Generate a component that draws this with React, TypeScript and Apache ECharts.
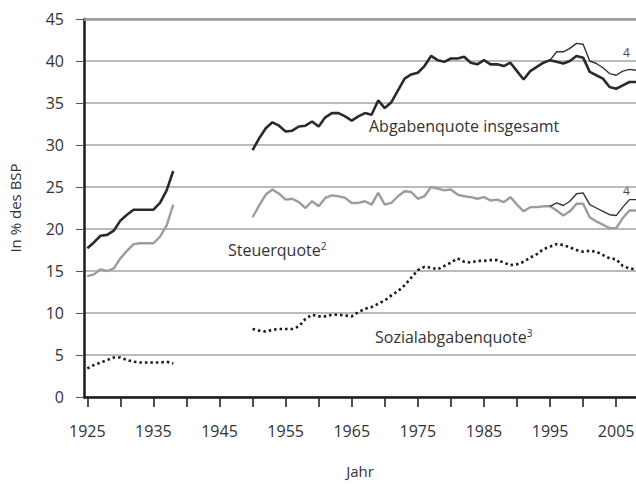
import React, { useEffect, useRef } from "react";
import * as echarts from "echarts";

const yearsPre = [1925, 1926, 1927, 1928, 1929, 1930, 1931, 1932, 1933, 1934, 1935, 1936, 1937, 1938];
const yearsPost = [
  1950, 1951, 1952, 1953, 1954, 1955, 1956, 1957, 1958, 1959,
  1960, 1961, 1962, 1963, 1964, 1965, 1966, 1967, 1968, 1969,
  1970, 1971, 1972, 1973, 1974, 1975, 1976, 1977, 1978, 1979,
  1980, 1981, 1982, 1983, 1984, 1985, 1986, 1987, 1988, 1989,
  1990, 1991, 1992, 1993, 1994, 1995, 1996, 1997, 1998, 1999,
  2000, 2001, 2002, 2003, 2004, 2005, 2006, 2007, 2008,
];

const abgabenPre = [17.7, 18.4, 19.2, 19.3, 19.8, 21.0, 21.7, 22.3, 22.3, 22.3, 22.3, 23.1, 24.6, 26.9];
const abgabenPost = [
  29.4, 30.8, 32.0, 32.7, 32.3, 31.6, 31.7, 32.2, 32.3, 32.8,
  32.2, 33.3, 33.8, 33.8, 33.4, 32.9, 33.4, 33.8, 33.6, 35.3,
  34.4, 35.1, 36.5, 37.9, 38.4, 38.6, 39.4, 40.6, 40.1, 39.9,
  40.3, 40.3, 40.5, 39.8, 39.6, 40.1, 39.6, 39.6, 39.4, 39.8,
  38.8, 37.8, 38.8, 39.3, 39.8, 40.1, 39.9, 39.7, 40.0, 40.6,
  40.4, 38.7, 38.3, 37.9, 36.9, 36.7, 37.1, 37.5, 37.5,
];

const steuerPre = [14.4, 14.6, 15.2, 15.0, 15.3, 16.5, 17.4, 18.2, 18.3, 18.3, 18.3, 19.1, 20.4, 22.9];
const steuerPost = [
  21.4, 22.8, 24.1, 24.7, 24.2, 23.5, 23.6, 23.2, 22.5, 23.3,
  22.7, 23.7, 24.0, 23.9, 23.7, 23.1, 23.1, 23.3, 22.9, 24.3,
  22.9, 23.1, 23.9, 24.5, 24.4, 23.6, 23.9, 25.0, 24.8, 24.6,
  24.7, 24.1, 23.9, 23.8, 23.6, 23.8, 23.4, 23.5, 23.2, 23.8,
  22.9, 22.1, 22.6, 22.6, 22.7, 22.7, 22.2, 21.6, 22.1, 23.0,
  23.0, 21.4, 20.9, 20.5, 20.1, 20.1, 21.3, 22.2, 22.2,
];

const sozialPre = [3.4, 3.8, 4.1, 4.4, 4.7, 4.7, 4.4, 4.2, 4.1, 4.1, 4.1, 4.1, 4.2, 4.0];
const sozialPost = [
  8.1, 7.9, 7.8, 8.0, 8.1, 8.1, 8.1, 8.4, 9.3, 9.8,
  9.6, 9.6, 9.8, 9.8, 9.7, 9.6, 10.1, 10.5, 10.7, 11.1,
  11.5, 12.1, 12.6, 13.3, 14.2, 15.1, 15.5, 15.4, 15.2, 15.6,
  16.0, 16.5, 16.1, 16.0, 16.2, 16.2, 16.3, 16.3, 16.0, 15.7,
  15.8, 16.1, 16.6, 17.0, 17.6, 17.9, 18.2, 18.1, 17.8, 17.5,
  17.3, 17.4, 17.3, 16.9, 16.5, 16.4, 15.6, 15.3, 15.2,
];

// Alternative definition (footnote 4), 1995-2008
const yearsAlt = [1995, 1996, 1997, 1998, 1999, 2000, 2001, 2002, 2003, 2004, 2005, 2006, 2007, 2008];
const abgabenAlt = [40.1, 41.1, 41.1, 41.5, 42.1, 42.0, 40.0, 39.7, 39.2, 38.5, 38.3, 38.8, 39.0, 38.9];
const steuerAlt = [22.7, 23.1, 22.8, 23.3, 24.2, 24.3, 22.9, 22.5, 22.1, 21.7, 21.6, 22.6, 23.5, 23.5];

const xTickValues = [1925, 1930, 1935, 1940, 1945, 1950, 1955, 1960, 1965, 1970, 1975, 1980, 1985, 1990, 1995, 2000, 2005];
const xLabelValues = [1925, 1935, 1945, 1955, 1965, 1975, 1985, 1995, 2005];

const FONT = "'Open Sans', sans-serif";

function joinSegments(a: number[], av: number[], b: number[], bv: number[]) {
  const out: any[] = a.map((y, i) => [y, av[i]]);
  out.push([1939, null]);
  b.forEach((y, i) => out.push([y, bv[i]]));
  return out;
}

export default function App() {
  const ref = useRef<HTMLDivElement>(null);
  useEffect(() => {
    if (!ref.current) return;
    const chart = echarts.init(ref.current, null, { renderer: "svg" });
    const option: any = {
      animation: false,
      backgroundColor: "#ffffff",
      grid: { left: 84, right: 0, top: 19, bottom: 87, containLabel: false, outerBoundsMode: "none" },
      xAxis: {
        type: "value",
        min: 1924.5,
        max: 2008,
        name: "Jahr",
        nameLocation: "middle",
        nameGap: 66,
        nameTextStyle: { fontFamily: FONT, fontSize: 15, color: "#333" },
        axisLine: { show: true, onZero: false, lineStyle: { color: "#1a1a1a", width: 2.5 } },
        axisTick: { show: true, customValues: xTickValues, length: 10, lineStyle: { color: "#222", width: 1.6 } },
        axisLabel: {
          customValues: xLabelValues,
          formatter: (v: number) => String(v),
          margin: 26,
          fontFamily: FONT,
          fontSize: 16,
          color: "#333",
        },
        splitLine: { show: false },
      },
      yAxis: {
        type: "value",
        min: 0,
        max: 45,
        interval: 5,
        name: "In % des BSP",
        nameLocation: "middle",
        nameGap: 62,
        nameRotate: 90,
        nameTextStyle: { fontFamily: FONT, fontSize: 15, color: "#333" },
        axisLine: { show: true, lineStyle: { color: "#1a1a1a", width: 2.5 } },
        axisTick: { show: true, length: 8, lineStyle: { color: "#555", width: 1 } },
        axisLabel: { margin: 20, fontFamily: FONT, fontSize: 16, color: "#333" },
        splitLine: { show: true, lineStyle: { color: "#a3a3a3", width: 1.5 } },
      },
      series: [
        {
          name: "Sozialabgabenquote",
          type: "line",
          data: joinSegments(yearsPre, sozialPre, yearsPost, sozialPost),
          showSymbol: false,
          connectNulls: false,
          lineStyle: { color: "#1a1a1a", width: 2.6, type: [2.5, 3], cap: "butt" },
          z: 3,
        },
        {
          name: "Steuerquote",
          type: "line",
          data: joinSegments(yearsPre, steuerPre, yearsPost, steuerPost),
          showSymbol: false,
          connectNulls: false,
          lineStyle: { color: "#9c9c9c", width: 2.4 },
          z: 3,
        },
        {
          name: "Steuerquote alt",
          type: "line",
          data: yearsAlt.map((y, i) => [y, steuerAlt[i]]),
          showSymbol: false,
          lineStyle: { color: "#333", width: 1.4 },
          z: 4,
        },
        {
          name: "Abgabenquote",
          type: "line",
          data: joinSegments(yearsPre, abgabenPre, yearsPost, abgabenPost),
          showSymbol: false,
          connectNulls: false,
          lineStyle: { color: "#2a2a2a", width: 2.6 },
          z: 5,
          markLine: {
            silent: true,
            symbol: "none",
            label: { show: false },
            lineStyle: { color: "#9a9a9a", width: 2.6, type: "solid" },
            data: [{ yAxis: 45 }],
          },
        },
        {
          name: "Abgabenquote alt",
          type: "line",
          data: yearsAlt.map((y, i) => [y, abgabenAlt[i]]),
          showSymbol: false,
          lineStyle: { color: "#333", width: 1.4 },
          z: 4,
        },
      ],
      graphic: [
        {
          type: "text",
          left: 369,
          top: 118,
          style: { text: "Abgabenquote insgesamt", fontFamily: FONT, fontSize: 16, fill: "#333" },
        },
        {
          type: "text",
          left: 228,
          top: 241,
          style: {
            text: "Steuerquote{sup|2}",
            fontFamily: FONT,
            fontSize: 16,
            fill: "#333",
            rich: { sup: { fontSize: 10, fontFamily: FONT, fill: "#333", verticalAlign: "top", padding: [0, 0, 8, 0] } },
          },
        },
        {
          type: "text",
          left: 375,
          top: 328,
          style: {
            text: "Sozialabgabenquote{sup|3}",
            fontFamily: FONT,
            fontSize: 16,
            fill: "#333",
            rich: { sup: { fontSize: 10, fontFamily: FONT, fill: "#333", verticalAlign: "top", padding: [0, 0, 8, 0] } },
          },
        },
        {
          type: "text",
          left: 623,
          top: 46,
          style: { text: "4", fontFamily: FONT, fontSize: 12, fill: "#444" },
        },
        {
          type: "text",
          left: 623,
          top: 184,
          style: { text: "4", fontFamily: FONT, fontSize: 12, fill: "#444" },
        },
      ],
    };
    chart.setOption(option);
    return () => chart.dispose();
  }, []);
  return (
    <div
      ref={ref}
      style={{ position: "fixed", left: 0, top: 0, width: 636, height: 484, background: "#fff" }}
    />
  );
}
